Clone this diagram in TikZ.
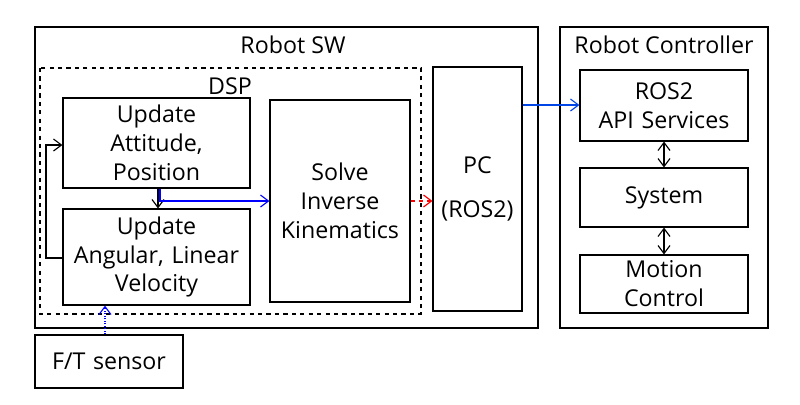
\documentclass[tikz,border=0pt]{standalone}
\usepackage{fontspec}
\setmainfont{Open Sans}
\usetikzlibrary{positioning, arrows.meta}

\begin{document}
\begin{tikzpicture}
    [
        x=0.025cm, y=-0.025cm,
        font=\fontsize{16.5}{20.5}\selectfont,
        block_node/.style={draw=black, thick, fill=white, align=center, inner sep=0pt},
        tip_arrow/.style={-{Straight Barb[length=2mm, width=3mm]}, thick},
    ]
        \useasboundingbox (0,0) rectangle (800,404);
        % outer frames
        \draw[thick] (35,27) rectangle (538,328);
        \node at (293,45) {Robot SW};
        \draw[thick, dashed] (40,68) rectangle (421,314);
        \node at (230,86) {DSP};
        \draw[thick] (560,27) rectangle (768,328);
        \node at (664,45) {Robot Controller};
        % blocks
        \node[block_node, text width=4.675cm, minimum height=2.25cm] (att) at (156.5,143) {Update\\Attitude,\\Position};
        \node[block_node, text width=4.675cm, minimum height=2.4cm] (vel) at (156.5,257) {Update\\Angular, Linear\\Velocity};
        \node[block_node, text width=3.5cm, minimum height=5.05cm] (ik) at (340,201) {Solve\\Inverse\\Kinematics};
        \node[block_node, text width=2.225cm, minimum height=6.1cm] (pc) at (477.5,189) {PC\\[4mm](ROS2)};
        \node[block_node, text width=4.2cm, minimum height=1.775cm] (api) at (664,105.5) {ROS2\\API Services};
        \node[block_node, text width=4.2cm, minimum height=1.475cm] (sys) at (664,197.5) {System};
        \node[block_node, text width=4.2cm, minimum height=1.45cm] (mot) at (664,284) {Motion\\Control};
        \node[block_node, text width=3.7cm, minimum height=1.325cm] (ft) at (109,361.5) {F/T sensor};
        % connectors
        \draw[tip_arrow] (att.south -| 158,0) -- (vel.north -| 158,0);
        \draw[tip_arrow, blue] (att.south -| 160,0) |- (ik.west |- 0,201);
        \draw[tip_arrow, red, dashed] (ik.east |- 0,201) -- (pc.west |- 0,201);
        \draw[tip_arrow, blue!70!cyan!90!black] (pc.east |- 0,105) -- (api.west |- 0,105);
        \draw[{Straight Barb[length=2mm, width=3mm]}-{Straight Barb[length=2mm, width=3mm]}, thick] (api) -- (sys);
        \draw[{Straight Barb[length=2mm, width=3mm]}-{Straight Barb[length=2mm, width=3mm]}, thick] (sys) -- (mot);
        \draw[tip_arrow] (vel.west |- 0,258) -- (46,258) |- (att.west |- 0,145);
        \draw[tip_arrow, blue, densely dotted] (ft.north -| 105,0) -- (vel.south -| 105,0);
    \end{tikzpicture}
\end{document}
